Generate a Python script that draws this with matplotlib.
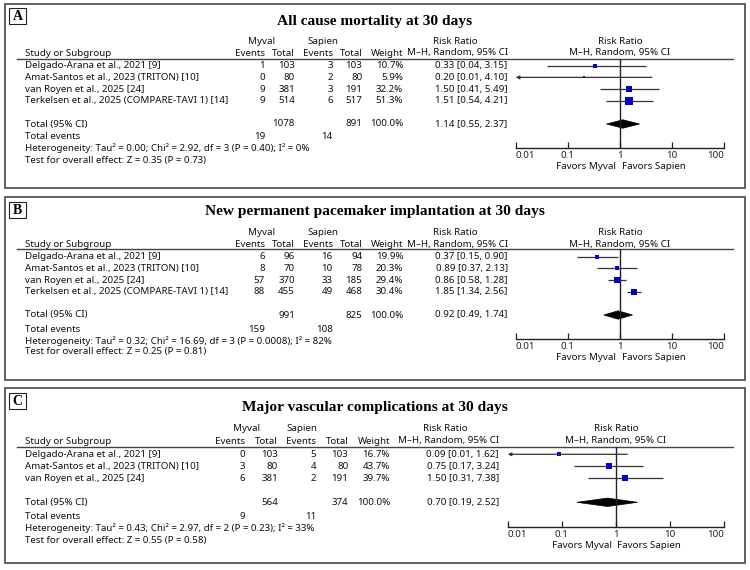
import matplotlib
matplotlib.use("Agg")
import matplotlib.pyplot as plt
from matplotlib.patches import Rectangle, Polygon
import numpy as np

# ---------------- DATA ----------------
panel_letters = ["A", "B", "C"]
titles = ["All cause mortality at 30 days",
          "New permanent pacemaker implantation at 30 days",
          "Major vascular complications at 30 days"]

studies_A = ["Delgado-Arana et al., 2021 [9]", "Amat-Santos et al., 2023 (TRITON) [10]",
             "van Royen et al., 2025 [24]", "Terkelsen et al., 2025 (COMPARE-TAVI 1) [14]"]
myval_ev_A = [1, 0, 9, 9]
myval_tot_A = [103, 80, 381, 514]
sapien_ev_A = [3, 2, 3, 6]
sapien_tot_A = [103, 80, 191, 517]
weight_A = [10.7, 5.9, 32.2, 51.3]
rr_A = [0.33, 0.20, 1.50, 1.51]
lo_A = [0.04, 0.01, 0.41, 0.54]
hi_A = [3.15, 4.10, 5.49, 4.21]
total_A = dict(myval_tot=1078, sapien_tot=891, myval_ev=19, sapien_ev=14, rr=1.14, lo=0.55, hi=2.37,
               het="Heterogeneity: Tau\u00b2 = 0.00; Chi\u00b2 = 2.92, df = 3 (P = 0.40); I\u00b2 = 0%",
               test="Test for overall effect: Z = 0.35 (P = 0.73)")

studies_B = list(studies_A)
myval_ev_B = [6, 8, 57, 88]
myval_tot_B = [96, 70, 370, 455]
sapien_ev_B = [16, 10, 33, 49]
sapien_tot_B = [94, 78, 185, 468]
weight_B = [19.9, 20.3, 29.4, 30.4]
rr_B = [0.37, 0.89, 0.86, 1.85]
lo_B = [0.15, 0.37, 0.58, 1.34]
hi_B = [0.90, 2.13, 1.28, 2.56]
total_B = dict(myval_tot=991, sapien_tot=825, myval_ev=159, sapien_ev=108, rr=0.92, lo=0.49, hi=1.74,
               het="Heterogeneity: Tau\u00b2 = 0.32; Chi\u00b2 = 16.69, df = 3 (P = 0.0008); I\u00b2 = 82%",
               test="Test for overall effect: Z = 0.25 (P = 0.81)")

studies_C = studies_A[:3]
myval_ev_C = [0, 3, 6]
myval_tot_C = [103, 80, 381]
sapien_ev_C = [5, 4, 2]
sapien_tot_C = [103, 80, 191]
weight_C = [16.7, 43.7, 39.7]
rr_C = [0.09, 0.75, 1.50]
lo_C = [0.01, 0.17, 0.31]
hi_C = [1.62, 3.24, 7.38]
total_C = dict(myval_tot=564, sapien_tot=374, myval_ev=9, sapien_ev=11, rr=0.70, lo=0.19, hi=2.52,
               het="Heterogeneity: Tau\u00b2 = 0.43; Chi\u00b2 = 2.97, df = 2 (P = 0.23); I\u00b2 = 33%",
               test="Test for overall effect: Z = 0.55 (P = 0.58)")

tick_vals = [0.01, 0.1, 1, 10, 100]
tick_labels = ["0.01", "0.1", "1", "10", "100"]

# ---------------- LAYOUT (pixel coords) ----------------
W, H = 750, 570
FONT = "Noto Sans"
FS = 7.0
SERIF = "Liberation Serif"

fig = plt.figure(figsize=(W / 100, H / 100), dpi=100)
bg = fig.add_axes([0, 0, 1, 1])
bg.set_xlim(0, W)
bg.set_ylim(H, 0)
bg.axis("off")

layouts = [
    dict(box=(5, 4, 745, 188), lab_y=16.3, title_y=21.5, grp_y=42, hdr_y=53, line_y=59,
         row0=65.7, dy=11.67, tot_y=124, tev_y=136.7, het_y=148.3, test_y=160,
         cols=(265, 295, 332.7, 362.3, 403.3, 507.7), myval_c=262, sapien_c=323, rrh_c=455,
         fx0=515.7, fx1=724.3, axis_y=147.7),
    dict(box=(5, 196.7, 745, 380), lab_y=209.5, title_y=212, grp_y=232.7, hdr_y=244.3, line_y=249.3,
         row0=256.7, dy=11.67, tot_y=315, tev_y=329, het_y=340.7, test_y=351.7,
         cols=(265, 295, 332.7, 362.3, 403.3, 507.7), myval_c=262, sapien_c=323, rrh_c=455,
         fx0=515.7, fx1=724.3, axis_y=339),
    dict(box=(5, 388, 745, 563), lab_y=400.8, title_y=408, grp_y=428.3, hdr_y=441, line_y=446.7,
         row0=454.3, dy=11.9, tot_y=502.3, tev_y=516.7, het_y=528.3, test_y=540,
         cols=(245, 278, 316, 348.3, 390, 499), myval_c=247, sapien_c=302, rrh_c=445,
         fx0=507.7, fx1=724, axis_y=526.7),
]

panels = [
    (studies_A, myval_ev_A, myval_tot_A, sapien_ev_A, sapien_tot_A, weight_A, rr_A, lo_A, hi_A, total_A),
    (studies_B, myval_ev_B, myval_tot_B, sapien_ev_B, sapien_tot_B, weight_B, rr_B, lo_B, hi_B, total_B),
    (studies_C, myval_ev_C, myval_tot_C, sapien_ev_C, sapien_tot_C, weight_C, rr_C, lo_C, hi_C, total_C),
]

def t(x, y, s, ha="left", bold=False, **kw):
    bg.text(x, y, s, ha=ha, va="center", fontsize=kw.pop("fs", FS), family=kw.pop("family", FONT),
            fontweight="bold" if bold else "normal", color=kw.pop("color", "#111111"), **kw)

blue = "#0000CC"
for k, (L, P) in enumerate(zip(layouts, panels)):
    studies, mev, mtot, sev, stot, wt, rr, lo, hi, tot = P
    x0, y0, x1, y1 = L["box"]
    bg.add_patch(Rectangle((x0, y0), x1 - x0, y1 - y0, fill=False, ec="#555555", lw=1.3))
    # letter box
    bg.add_patch(Rectangle((9.3, L["lab_y"] - 8), 16.7, 16, fill=False, ec="#222222", lw=0.8))
    t(17.7, L["lab_y"] + 0.5, panel_letters[k], ha="center", bold=True, fs=10, family=SERIF, color="black")
    t(375, L["title_y"], titles[k], ha="center", bold=True, fs=11.1, family=SERIF, color="black")

    c_ev1, c_tot1, c_ev2, c_tot2, c_w, c_rr = L["cols"]
    t(L["myval_c"], L["grp_y"], "Myval", ha="center", bold=True)
    t(L["sapien_c"], L["grp_y"], "Sapien", ha="center", bold=True)
    t(L["rrh_c"], L["grp_y"], "Risk Ratio", ha="center", bold=True)
    xone = L["fx0"] + (L["fx1"] - L["fx0"]) / 2
    t(xone, L["grp_y"], "Risk Ratio", ha="center", bold=True)
    t(25, L["hdr_y"], "Study or Subgroup", bold=True)
    t(c_ev1, L["hdr_y"], "Events", ha="right", bold=True)
    t(c_tot1, L["hdr_y"], "Total", ha="right", bold=True)
    t(c_ev2, L["hdr_y"], "Events", ha="right", bold=True)
    t(c_tot2, L["hdr_y"], "Total", ha="right", bold=True)
    t(c_w, L["hdr_y"], "Weight", ha="right", bold=True)
    t(c_rr, L["hdr_y"], "M\u2013H, Random, 95% CI", ha="right", bold=True)
    t(xone, L["hdr_y"], "M\u2013H, Random, 95% CI", ha="center", bold=True)
    bg.plot([17, 733], [L["line_y"], L["line_y"]], color="#444444", lw=1.0)

    ys = [L["row0"] + i * L["dy"] for i in range(len(studies))]
    for i, y in enumerate(ys):
        t(25, y, studies[i])
        t(c_ev1, y, str(mev[i]), ha="right")
        t(c_tot1, y, str(mtot[i]), ha="right")
        t(c_ev2, y, str(sev[i]), ha="right")
        t(c_tot2, y, str(stot[i]), ha="right")
        t(c_w, y, f"{wt[i]:.1f}%", ha="right")
        t(c_rr, y, f"{rr[i]:.2f} [{lo[i]:.2f}, {hi[i]:.2f}]", ha="right")
    ty = L["tot_y"]
    t(25, ty, "Total (95% CI)", bold=True)
    t(c_tot1, ty, str(tot["myval_tot"]), ha="right", bold=True)
    t(c_tot2, ty, str(tot["sapien_tot"]), ha="right", bold=True)
    t(c_w, ty, "100.0%", ha="right", bold=True)
    t(c_rr, ty, f"{tot['rr']:.2f} [{tot['lo']:.2f}, {tot['hi']:.2f}]", ha="right", bold=True)
    t(25, L["tev_y"], "Total events")
    t(c_ev1, L["tev_y"], str(tot["myval_ev"]), ha="right")
    t(c_ev2, L["tev_y"], str(tot["sapien_ev"]), ha="right")
    t(25, L["het_y"], tot["het"])
    t(25, L["test_y"], tot["test"])

    # forest axes
    fx0, fx1, ay, ly = L["fx0"], L["fx1"], L["axis_y"], L["line_y"]
    ax = fig.add_axes([fx0 / W, 1 - ay / H, (fx1 - fx0) / W, (ay - ly) / H])
    ax.set_xscale("log")
    ax.set_xlim(0.01, 100)
    ax.set_ylim(ay, ly)
    ax.patch.set_alpha(0)
    for s in ["top", "left", "right"]:
        ax.spines[s].set_visible(False)
    ax.spines["bottom"].set_linewidth(1.0)
    ax.spines["bottom"].set_color("#222222")
    ax.set_yticks([])
    ax.set_xticks(tick_vals)
    ax.set_xticklabels(tick_labels)
    ax.xaxis.set_minor_locator(matplotlib.ticker.NullLocator())
    ax.tick_params(axis="x", direction="in", length=4, width=0.9, pad=2.2,
                   labelsize=FS, colors="#222222")
    for lab in ax.get_xticklabels():
        lab.set_family(FONT)
    labs = ax.get_xticklabels()
    labs[0].set_ha("left")
    labs[-1].set_ha("right")
    ax.axvline(1, color="#222222", lw=1.0)
    for i, y in enumerate(ys):
        if lo[i] <= 0.01:
            ax.annotate("", xy=(0.01, y), xytext=(hi[i], y), annotation_clip=False,
                        arrowprops=dict(arrowstyle="-|>", lw=0.9, color="#333333",
                                        mutation_scale=5, shrinkA=0, shrinkB=0))
        else:
            ax.plot([lo[i], hi[i]], [y, y], color="#333333", lw=0.9, solid_capstyle="butt")
        ax.plot([rr[i]], [y], marker="s", ms=0.72 * np.sqrt(wt[i]), color=blue, mec=blue, mew=0)
    d = 4.2
    ax.add_patch(Polygon([[tot["lo"], ty], [tot["rr"], ty - d], [tot["hi"], ty], [tot["rr"], ty + d]],
                         closed=True, fc="black", ec="black", lw=0.5, clip_on=False))
    t(xone - 4, ay + 18.5, "Favors Myval", ha="right")
    t(xone + 1.5, ay + 18.5, "Favors Sapien", ha="left")

fig.savefig("out.png", dpi=100)
